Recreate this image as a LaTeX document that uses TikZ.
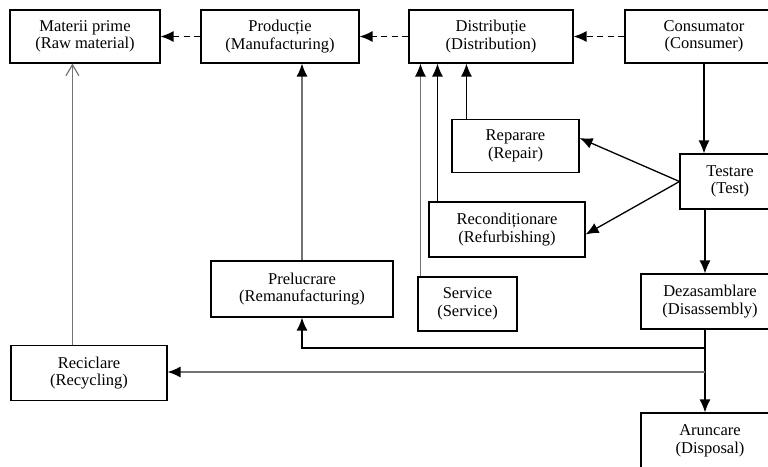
\documentclass[tikz,border=0pt]{standalone}
\usepackage{fontspec}
\setmainfont{Liberation Serif}
\usetikzlibrary{arrows.meta}

\tikzset{
	box/.style={rectangle,draw,line width=1.1pt,align=center,inner sep=0pt,
		font=\fontsize{16.5}{17.5}\selectfont},
	arr/.style={line width=1.3pt,-{Latex[length=13pt,width=11pt]}},
	darr/.style={arr,dash pattern=on 6pt off 4.5pt},
	garr/.style={line width=1.3pt,draw=black!55,-{Latex[length=13pt,width=11pt,black]}},
	oarr/.style={line width=1.3pt,draw=black!55,-{Straight Barb[length=11pt,width=13pt,line width=1.2pt]}}
}

\begin{document}
\begin{tikzpicture}[x=1pt,y=-1pt]
		\clip (0,0) rectangle (768,466);
		\path (85,36.5) node(mat) [box,minimum width=150pt,minimum height=53pt] {Materii prime\\(Raw material)};
		\path (280,36.5) node(prod) [box,minimum width=158pt,minimum height=53pt] {Producție\\(Manufacturing)};
		\path (491,36.5) node(dist) [box,minimum width=164pt,minimum height=53pt] {Distribuție\\(Distribution)};
		\path (704,36.5) node(cons) [box,minimum width=158pt,minimum height=53pt] {Consumator\\(Consumer)};
		\path (515.5,146) node(rep) [box,minimum width=127pt,minimum height=53pt] {Reparare\\(Repair)};
		\path (507,229.5) node(recond) [box,minimum width=156pt,minimum height=55pt] {Recondiționare\\(Refurbishing)};
		\path (730,181.5) node(test) [box,minimum width=100pt,minimum height=55pt] {Testare\\(Test)};
		\path (467.5,304) node(serv) [box,minimum width=99pt,minimum height=54pt] {Service\\(Service)};
		\path (302,289) node(prel) [box,minimum width=182pt,minimum height=56pt] {Prelucrare\\(Remanufacturing)};
		\path (710,301.5) node(dez) [box,minimum width=138pt,minimum height=55pt] {Dezasamblare\\(Disassembly)};
		\path (710,441) node(arun) [box,minimum width=138pt,minimum height=56pt] {Aruncare\\(Disposal)};
		\path (89,373) node(recic) [box,minimum width=156pt,minimum height=55pt] {Reciclare\\(Recycling)};
		\path (705,348) coordinate (br1);
		\path (705,372) coordinate (br2);

		% forward chain
		\draw[darr] (cons.west) -- (dist.east);
		\draw[darr] (dist.west) -- (prod.east);
		\draw[darr] (prod.west) -- (mat.east);
		\draw[arr] (cons.south) -- (cons.south |- test.north);
		\draw[arr] (test.west) -- ([yshift=8pt]rep.east);
		\draw[arr] (test.west) -- ([yshift=-5pt]recond.east);
		\draw[arr] (test.south -| br1) -- (dez.north -| br1);

		% back to distribution
		\draw[arr] ([xshift=15pt]rep.north west) -- ([xshift=15pt]rep.north west |- dist.south);
		\draw[arr] ([xshift=9pt]recond.north west) -- ([xshift=9pt]recond.north west |- dist.south);
		\draw[garr] ([xshift=3pt]serv.north west) -- ([xshift=3pt]serv.north west |- dist.south);

		% disassembly branches
		\draw[arr] (dez.south -| br1) -- (arun.north -| br1);
		\draw[arr] (br1) -| (prel.south);
		\draw[garr] (br2) -- (br2 -| recic.east);
		\draw[garr] (prel.north) -- (prel.north |- prod.south);
		\draw[oarr] ([xshift=62pt]recic.north west) -- ([xshift=62pt]recic.north west |- mat.south);
	\end{tikzpicture}
\end{document}
